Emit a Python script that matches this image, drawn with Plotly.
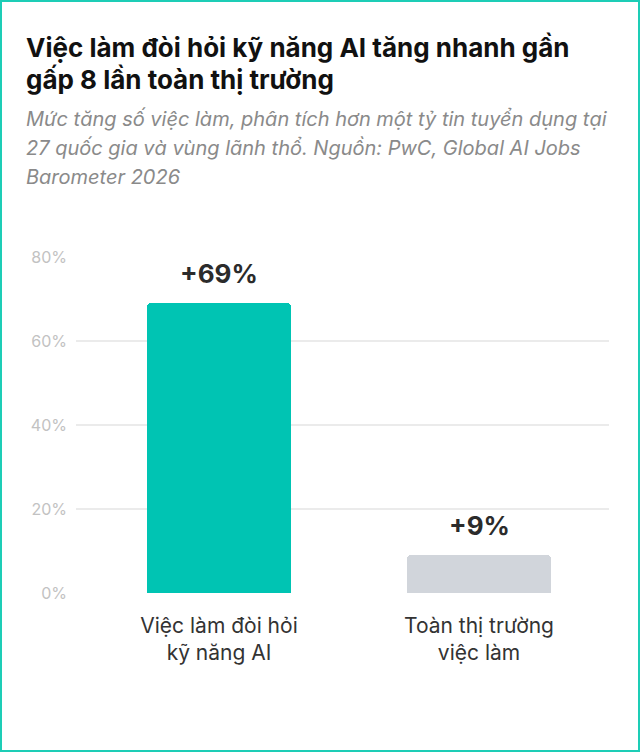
import plotly.graph_objects as go

categories = ["Việc làm đòi hỏi<br>kỹ năng AI", "Toàn thị trường<br>việc làm"]
values = [69, 9]
value_labels = ["+69%", "+9%"]
bar_colors = ["#00C4B3", "#D1D5DB"]
tick_vals = [0, 20, 40, 60, 80]
tick_text = ["0%", "20%", "40%", "60%", "80%"]

W, H = 640, 752
L, R, T, B = 76, 31, 257, 159
pw, ph = W - L - R, H - T - B

fig = go.Figure()
fig.add_trace(go.Bar(
    x=[0, 1], y=values, marker=dict(color=bar_colors, line=dict(width=0), cornerradius=4),
    width=0.554, hoverinfo="skip", showlegend=False,
))

for i, (v, t) in enumerate(zip(values, value_labels)):
    fig.add_annotation(x=i, y=v, text=f"<b>{t}</b>", showarrow=False,
                       yanchor="bottom", yshift=12,
                       font=dict(family="Inter", size=26, color="#2B2B2B"))

fig.update_xaxes(range=[-0.55, 1.5], tickvals=[0, 1], ticktext=categories,
                 showgrid=False, zeroline=False, showline=False, ticks="",
                 ticklabelstandoff=18,
                 tickfont=dict(family="Inter", size=21, color="#333333"))
fig.update_yaxes(range=[0, 80], tickvals=tick_vals, ticktext=tick_text,
                 showgrid=True, gridcolor="#EBEBEB", gridwidth=1.5, zeroline=False,
                 showline=False, ticks="", ticklabelstandoff=8,
                 tickfont=dict(family="Inter", size=16, color="#C2C2C2"))

def px_x(x):
    return (x - L) / pw

def px_y(y):
    return (H - B - y) / ph

# Card border
fig.add_shape(type="rect", xref="paper", yref="paper",
              x0=px_x(1), x1=px_x(W - 1), y0=px_y(H - 1), y1=px_y(1),
              line=dict(color="#1DCDB6", width=2), fillcolor="rgba(0,0,0,0)", layer="above")

title_lines = ["Việc làm đòi hỏi kỹ năng AI tăng nhanh gần", "gấp 8 lần toàn thị trường"]
for k, line in enumerate(title_lines):
    fig.add_annotation(xref="paper", yref="paper", x=px_x(24), y=px_y(47 + 32 * k),
                       xanchor="left", yanchor="middle", showarrow=False,
                       text=f"<b>{line}</b>",
                       font=dict(family="Inter", size=26, color="#111111"))

subtitle_lines = ["Mức tăng số việc làm, phân tích hơn một tỷ tin tuyển dụng tại",
                  "27 quốc gia và vùng lãnh thổ. Nguồn: PwC, Global AI Jobs",
                  "Barometer 2026"]
for k, line in enumerate(subtitle_lines):
    fig.add_annotation(xref="paper", yref="paper", x=px_x(24), y=px_y(119 + 29 * k),
                       xanchor="left", yanchor="middle", showarrow=False,
                       text=f"<i>{line}</i>",
                       font=dict(family="Inter", size=20, color="#8A8A8A"))

fig.update_layout(width=W, height=H, margin=dict(l=L, r=R, t=T, b=B),
                  paper_bgcolor="white", plot_bgcolor="white", bargap=0)

fig.write_html("out.html", config={"displayModeBar": False},
               post_script="document.body.style.margin='0';document.body.style.overflow='hidden';")
